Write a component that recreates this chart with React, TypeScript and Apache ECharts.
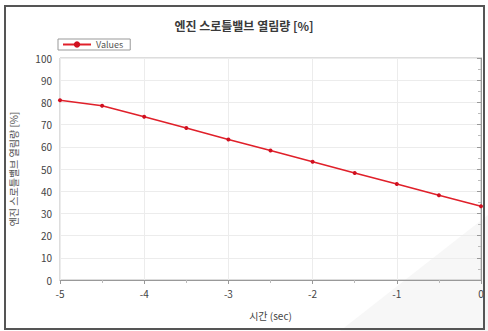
import React, { useEffect, useRef } from "react";
import * as echarts from "echarts";

const titleText = "엔진 스로틀밸브 열림량 [%]";
const xAxisName = "시간 (sec)";
const yAxisName = "엔진 스로틀밸브 열림량 [%]";
const seriesName = "Values";
const timeValues = [-5, -4.5, -4, -3.5, -3, -2.5, -2, -1.5, -1, -0.5, 0];
const openingValues = [81, 78.5, 73.5, 68.5, 63.3, 58.3, 53.3, 48.2, 43.2, 38.2, 33.2];

const FONT = "'Noto Sans CJK KR', 'Liberation Sans', sans-serif";

export default function App() {
  const ref = useRef<HTMLDivElement>(null);
  useEffect(() => {
    if (!ref.current) return;
    const chart = echarts.init(ref.current, undefined, { renderer: "svg" });
    const data = timeValues.map((t, i) => [t, openingValues[i]]);
    chart.setOption({
      animation: false,
      backgroundColor: "#ffffff",
      textStyle: { fontFamily: FONT },
      title: {
        text: titleText,
        left: "center",
        top: 14,
        textStyle: { fontSize: 12, fontWeight: "bold", color: "#3a3a3a", fontFamily: FONT },
      },
      legend: {
        data: [seriesName],
        left: 58,
        top: 39,
        padding: [1, 7, 1, 4],
        borderColor: "#999",
        borderWidth: 1,
        itemWidth: 28,
        itemHeight: 8,
        itemGap: 4,
        textStyle: { fontSize: 9, color: "#555", fontFamily: FONT },
      },
      graphic: [
        {
          type: "polygon",
          z: -10,
          silent: true,
          shape: { points: [[340, 331], [488, 215], [488, 331]] },
          style: { fill: "#f7f7f7" },
        },
        {
          type: "rect",
          z: 100,
          silent: true,
          shape: { x: 5, y: 6, width: 479, height: 323 },
          style: { fill: "none", stroke: "#555", lineWidth: 2 },
        },
      ],
      grid: {
        left: 60,
        right: 7,
        top: 58,
        bottom: 51,
        show: true,
        borderColor: "#bbb",
        borderWidth: 1,
        backgroundColor: "transparent",
      },
      xAxis: {
        type: "value",
        min: -5,
        max: 0,
        interval: 1,
        name: xAxisName,
        nameLocation: "middle",
        nameGap: 30,
        nameTextStyle: { fontSize: 10, color: "#444", fontFamily: FONT },
        axisLine: { lineStyle: { color: "#999" } },
        axisTick: { length: 4, lineStyle: { color: "#999" } },
        minorTick: { show: true, splitNumber: 2, length: 3, lineStyle: { color: "#bbb" } },
        axisLabel: { fontSize: 10, color: "#444", margin: 8 },
        splitLine: { show: true, lineStyle: { color: "#ececec" } },
      },
      yAxis: {
        type: "value",
        min: 0,
        max: 100,
        interval: 10,
        name: yAxisName,
        nameLocation: "middle",
        nameRotate: 90,
        nameGap: 42,
        nameTextStyle: { fontSize: 10, color: "#555", fontFamily: FONT },
        axisLine: { show: true, lineStyle: { color: "#999" } },
        axisTick: { show: true, length: 4, lineStyle: { color: "#999" } },
        minorTick: { show: true, splitNumber: 2, length: 3, lineStyle: { color: "#bbb" } },
        axisLabel: { fontSize: 10, color: "#444", margin: 8 },
        splitLine: { show: true, lineStyle: { color: "#ececec" } },
      },
      series: [
        {
          name: seriesName,
          type: "line",
          data,
          smooth: false,
          symbol: "circle",
          symbolSize: 4,
          lineStyle: { color: "#e0202a", width: 1.6 },
          itemStyle: { color: "#d01020" },
        },
      ],
    });
    return () => chart.dispose();
  }, []);
  return (
    <div
      ref={ref}
      style={{ position: "absolute", left: 0, top: 0, width: 488, height: 331 }}
    />
  );
}
